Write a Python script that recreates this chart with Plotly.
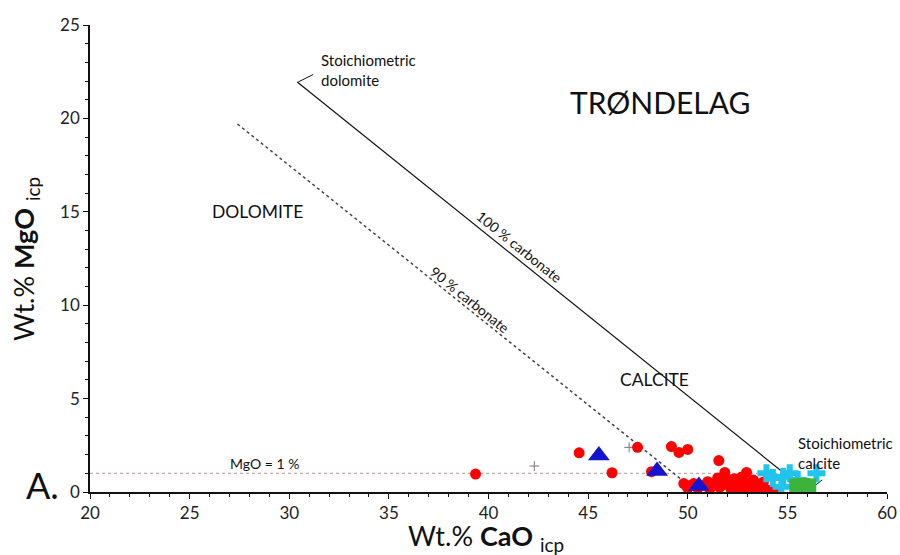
import plotly.graph_objects as go

# ---------------- data ----------------
red_cao = [39.35, 44.55, 46.2, 47.48, 48.18, 49.18, 49.56, 50.0, 51.56, 51.86, 52.95,
           49.8, 50.1, 50.3, 50.6, 50.9, 51.0, 51.2, 51.4, 51.5, 51.7, 51.8, 51.9, 52.0,
           52.1, 52.2, 52.35, 52.4, 52.5, 52.6, 52.7, 52.8, 52.9, 53.0, 53.1, 53.2, 53.3,
           53.4, 53.5, 53.7, 53.8, 53.9, 54.1, 54.3, 50.0, 50.5, 51.1, 51.6, 52.2, 52.6,
           53.0, 53.6]
red_mgo = [0.96, 2.1, 1.03, 2.39, 1.09, 2.43, 2.12, 2.28, 1.68, 1.05, 1.05,
           0.45, 0.35, 0.45, 0.3, 0.4, 0.55, 0.3, 0.5, 0.75, 0.35, 0.6, 0.45, 0.4,
           0.65, 0.25, 0.71, 0.5, 0.35, 0.6, 0.8, 0.45, 0.5, 0.3, 0.5, 0.15, 0.64,
           0.25, 0.3, 0.2, 0.54, 0.15, 0.1, 0.12, 0.2, 0.2, 0.15, 0.25, 0.1, 0.15,
           0.1, 0.1]

blue_cao = [45.54, 48.46, 50.56]
blue_mgo = [1.95, 1.12, 0.32]

cyan_cao = [53.95, 54.27, 54.79, 55.12, 54.70, 55.52, 56.46]
cyan_mgo = [1.0, 0.75, 0.82, 1.0, 0.28, 0.64, 1.0]

green_cao = [55.45, 55.8, 56.1]
green_mgo = [0.35, 0.38, 0.35]

grey_cao = [42.3, 47.06]
grey_mgo = [1.39, 2.39]

# reference lines
carb100_cao = [30.4, 54.9]
carb100_mgo = [21.95, 0.95]
carb90_cao = [27.4, 49.7]
carb90_mgo = [19.7, 0.65]
mgo1_cao = [20, 55]
mgo1_mgo = [1, 1]
dolo_ptr_cao = [30.45, 31.2]
dolo_ptr_mgo = [21.95, 22.35]
calc_ptr_cao = [56.1, 56.75]
calc_ptr_mgo = [0.1, 0.65]

x_range = [20, 60]
y_range = [0, 25]

FONT = "Lato"

fig = go.Figure()

def line(xs, ys, color, width, dash):
    fig.add_trace(go.Scatter(x=xs, y=ys, mode="lines",
                             line=dict(color=color, width=width, dash=dash),
                             hoverinfo="skip", showlegend=False))

line(mgo1_cao, mgo1_mgo, "#b49a9a", 1, "dot")
line(carb90_cao, carb90_mgo, "#444444", 1.5, "dot")
line(carb100_cao, carb100_mgo, "#111111", 1.2, "solid")
line(dolo_ptr_cao, dolo_ptr_mgo, "#111111", 1, "solid")
line(calc_ptr_cao, calc_ptr_mgo, "#111111", 1, "solid")

fig.add_trace(go.Scatter(x=grey_cao, y=grey_mgo, mode="markers",
                         marker=dict(symbol="cross-thin", size=7,
                                     line=dict(color="#777777", width=1)),
                         showlegend=False))
fig.add_trace(go.Scatter(x=red_cao, y=red_mgo, mode="markers",
                         marker=dict(symbol="circle", size=11, color="#ff0000"),
                         showlegend=False))
fig.add_trace(go.Scatter(x=blue_cao, y=blue_mgo, mode="markers",
                         marker=dict(symbol="triangle-up", size=19, color="#1515d0"),
                         showlegend=False))
fig.add_trace(go.Scatter(x=cyan_cao, y=cyan_mgo, mode="markers",
                         marker=dict(symbol="cross", size=15, color="#22c4ee"),
                         showlegend=False))
fig.add_trace(go.Scatter(x=green_cao, y=green_mgo, mode="markers",
                         marker=dict(symbol="square", size=14, color="#3cb43c"),
                         showlegend=False))

ann = []
def txt(x, y, s, size, angle=0, xanchor="center", xref="x", yref="y"):
    ann.append(dict(x=x, y=y, xref=xref, yref=yref, text=s, showarrow=False,
                    textangle=angle, xanchor=xanchor, yanchor="middle",
                    font=dict(family=FONT, size=size, color="#111111"), align="left"))

txt(48.6, 20.88, "TRØNDELAG", 30)
txt(28.43, 15.04, "DOLOMITE", 17.5)
txt(48.35, 6.0, "CALCITE", 17.5)
txt(31.5, 22.6, "Stoichiometric<br>dolomite", 15, xanchor="left")
txt(55.45, 2.09, "Stoichiometric<br>calcite", 15, xanchor="left")
txt(41.53, 13.12, "100 % carbonate", 14, angle=38.8)
txt(39.07, 10.33, "90 % carbonate", 14, angle=38.8)
txt(28.78, 1.55, "MgO = 1 %", 14)
txt(-0.059, 0.015, "A.", 36, xref="paper", yref="paper")
# axis titles
txt(0.497, -0.097, "Wt.% <b>CaO</b> <sub>icp</sub>", 27, xref="paper", yref="paper")
txt(-0.081, 0.50, "Wt.% <b>MgO</b> <sub>icp</sub>", 27, angle=-90, xref="paper", yref="paper")

axis_common = dict(showline=True, linecolor="#111111", linewidth=1.5,
                   ticks="outside", ticklen=5, tickcolor="#111111",
                   showgrid=False, zeroline=False, dtick=5, automargin=False,
                   tickfont=dict(family=FONT, size=17, color="#222222"),
                   minor=dict(dtick=1, ticks="outside", ticklen=3, tickcolor="#111111"))

fig.update_layout(
    width=900, height=555,
    margin=dict(l=90, r=13, t=25, b=63),
    paper_bgcolor="white", plot_bgcolor="white",
    font=dict(family=FONT),
    annotations=ann,
    xaxis=dict(range=x_range, tick0=20, **axis_common),
    yaxis=dict(range=y_range, tick0=0, **axis_common),
)

fig.write_html("out.html", config={"displayModeBar": False},
               post_script="document.body.style.margin='0';document.body.style.overflow='hidden';")
